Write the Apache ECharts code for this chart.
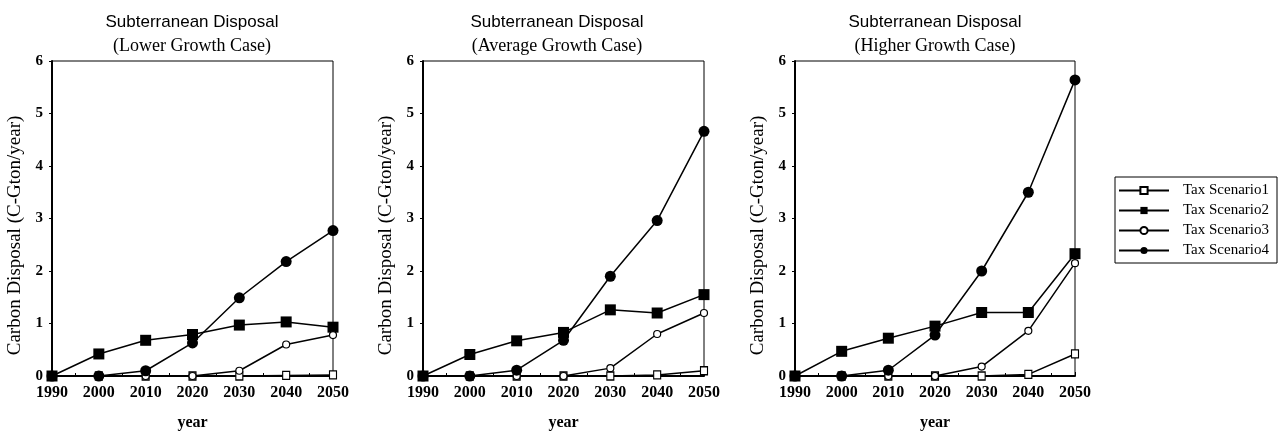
<!DOCTYPE html>
<html>
<head>
<meta charset="utf-8">
<script src="https://cdn.jsdelivr.net/npm/echarts@6/dist/echarts.min.js"></script>
<style>
  html, body { margin: 0; padding: 0; background: #fff; }
  #chart { width: 1281px; height: 436px; }
</style>
</head>
<body>
<div id="chart"></div>
<script>
// Years on the horizontal axis
const years = [1990, 2000, 2010, 2020, 2030, 2040, 2050];

// Panel headings
const panelTitle = 'Subterranean Disposal';
const panelCases = ['(Lower Growth Case)', '(Average Growth Case)', '(Higher Growth Case)'];

// Scenario names
const scenarioNames = ['Tax Scenario1', 'Tax Scenario2', 'Tax Scenario3', 'Tax Scenario4'];

// Carbon disposal (C-Gton/year) — lower growth case
const lowerS1 = [0, 0, 0, 0, 0, 0.01, 0.02];
const lowerS2 = [0, 0.42, 0.68, 0.79, 0.97, 1.03, 0.93];
const lowerS3 = [0, 0, 0, 0, 0.1, 0.6, 0.78];
const lowerS4 = [0, 0, 0.1, 0.63, 1.49, 2.18, 2.77];

// Average growth case
const averageS1 = [0, 0, 0, 0, 0, 0.02, 0.1];
const averageS2 = [0, 0.41, 0.67, 0.83, 1.26, 1.2, 1.55];
const averageS3 = [0, 0, 0, 0, 0.15, 0.8, 1.2];
const averageS4 = [0, 0, 0.11, 0.68, 1.9, 2.96, 4.66];

// Higher growth case
const higherS1 = [0, 0, 0, 0, 0, 0.03, 0.42];
const higherS2 = [0, 0.47, 0.72, 0.95, 1.21, 1.21, 2.33];
const higherS3 = [0, 0, 0, 0, 0.18, 0.86, 2.15];
const higherS4 = [0, 0, 0.11, 0.78, 2.0, 3.5, 5.64];

// Y axis ticks
const yMin = 0, yMax = 6, yStep = 1;

const panels = [
  [lowerS1, lowerS2, lowerS3, lowerS4],
  [averageS1, averageS2, averageS3, averageS4],
  [higherS1, higherS2, higherS3, higherS4]
];

const gridLefts = [52, 423, 795];
const gridWidths = [281, 281, 280];
const titleCenters = [187, 552, 930];
const serif = '"Liberation Serif", "DejaVu Serif", serif';
const sans = '"Liberation Sans", Arial, sans-serif';

const markerStyles = [
  { symbol: 'rect', symbolSize: [7, 8], itemStyle: { color: '#fff', borderColor: '#000', borderWidth: 1.2 } },
  { symbol: 'rect', symbolSize: 11, itemStyle: { color: '#000', borderColor: '#000', borderWidth: 0 } },
  { symbol: 'circle', symbolSize: 7, itemStyle: { color: '#fff', borderColor: '#000', borderWidth: 1.2 } },
  { symbol: 'circle', symbolSize: 11, itemStyle: { color: '#000', borderColor: '#000', borderWidth: 0 } }
];

const grids = [], xAxes = [], yAxes = [], titles = [], series = [];

panels.forEach((panel, p) => {
  grids.push({
    left: gridLefts[p], top: 61, width: gridWidths[p], height: 315,
    show: true, borderColor: '#000', borderWidth: 1, backgroundColor: 'transparent'
  });
  xAxes.push({
    type: 'value', gridIndex: p, min: 1990, max: 2050, interval: 10,
    name: 'year', nameLocation: 'middle', nameGap: 39,
    nameTextStyle: { fontFamily: serif, fontSize: 16, fontWeight: 'bold', color: '#000' },
    axisLine: { show: true, lineStyle: { color: '#000', width: 2 } },
    axisTick: { show: true, inside: true, length: 4, lineStyle: { color: '#000' } },
    minorTick: { show: true, splitNumber: 2, length: 3, lineStyle: { color: '#000' } },
    splitLine: { show: false },
    axisLabel: {
      fontFamily: serif, fontSize: 16, fontWeight: 'bold', color: '#000', margin: 9,
      formatter: v => String(v)
    }
  });
  yAxes.push({
    type: 'value', gridIndex: p, min: yMin, max: yMax, interval: yStep,
    name: 'Carbon Disposal (C-Gton/year)', nameLocation: 'middle', nameGap: 27,
    nameTextStyle: { fontFamily: serif, fontSize: 19, color: '#000', padding: [0, 34, 0, 0] },
    axisLine: { show: true, lineStyle: { color: '#000', width: 2 } },
    axisTick: { show: true, inside: false, length: 3, lineStyle: { color: '#000' } },
    splitLine: { show: false },
    axisLabel: { fontFamily: serif, fontSize: 15, fontWeight: 'bold', color: '#000', margin: 9 }
  });
  titles.push({
    text: panelTitle, subtext: panelCases[p],
    left: titleCenters[p], top: 9, textAlign: 'center', itemGap: 6,
    textStyle: { fontFamily: sans, fontSize: 17, fontWeight: 'normal', color: '#000' },
    subtextStyle: { fontFamily: serif, fontSize: 18, color: '#000' }
  });
  panel.forEach((vals, s) => {
    series.push(Object.assign({
      name: scenarioNames[s], type: 'line', xAxisIndex: p, yAxisIndex: p,
      data: years.map((y, i) => [y, vals[i]]),
      showAllSymbol: true, clip: false, z: 2 + s,
      lineStyle: { color: '#000', width: 1.5 }
    }, JSON.parse(JSON.stringify(markerStyles[s]))));
  });
});

const chart = echarts.init(document.getElementById('chart'), null, { renderer: 'canvas' });
chart.setOption({
  animation: false,
  backgroundColor: '#fff',
  title: titles,
  grid: grids,
  xAxis: xAxes,
  yAxis: yAxes,
  legend: {
    data: scenarioNames, orient: 'vertical', left: 1115, top: 177,
    itemWidth: 50, itemHeight: 9, itemGap: 5,
    borderColor: '#000', borderWidth: 1, padding: [6, 8, 5, 3],
    textStyle: { fontFamily: serif, fontSize: 15, color: '#000', padding: [0, 0, 0, 9] }
  },
  series: series
});
</script>
</body>
</html>
